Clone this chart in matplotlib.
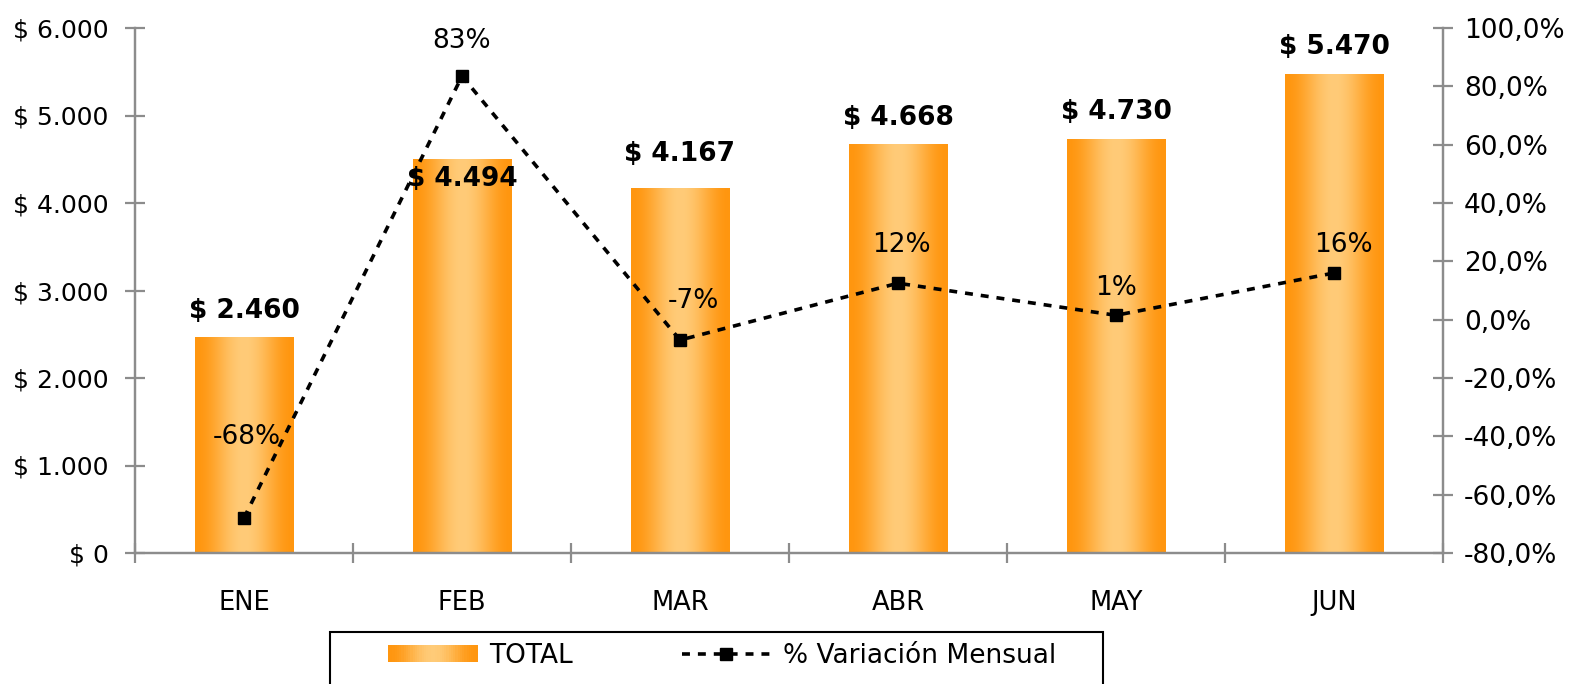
import numpy as np
import matplotlib
matplotlib.use("Agg")
from matplotlib import pyplot as plt
import matplotlib.ticker as ticker
from matplotlib.patches import Rectangle
from matplotlib.legend_handler import HandlerPatch

# data
months = ["ENE", "FEB", "MAR", "ABR", "MAY", "JUN"]
totals = [2460, 4494, 4167, 4668, 4730, 5470]
variation = [-68.0, 83.5, -7.0, 12.5, 1.5, 16.0]
variation_labels = ["-68%", "83%", "-7%", "12%", "1%", "16%"]

# label nudges (pixels)
total_offsets = [(0, 20), (0, -26), (0, 27), (0, 20), (0, 20), (0, 20)]
var_offsets = [(3, 74), (0, 28), (13, 32), (3, 31), (0, 20), (9, 21)]

W, H = 1582, 684
plt.rcParams['font.family'] = ['DejaVu Sans']
GRAY = '#8c8c8c'
DARK = np.array([255, 150, 15]) / 255.0
LIGHT = np.array([255, 203, 120]) / 255.0


def gradient(n=200):
    t = np.linspace(0, 1, n)
    w = np.sin(np.pi * t) ** 2
    return DARK[None, :] * (1 - w[:, None]) + LIGHT[None, :] * w[:, None]


class GradientHandler(HandlerPatch):
    def create_artists(self, legend, orig_handle, xdescent, ydescent,
                       width, height, fontsize, trans):
        cols = gradient(40)
        arts = []
        step = width / len(cols)
        for i, c in enumerate(cols):
            r = Rectangle((-xdescent + i * step, -ydescent), step * 1.05, height,
                          facecolor=c, edgecolor='none', transform=trans)
            arts.append(r)
        return arts


fig = plt.figure(figsize=(W / 100, H / 100), dpi=100)
ax = fig.add_axes([135 / W, 1 - 553 / H, (1443 - 135) / W, (553 - 28) / H])
ax2 = ax.twinx()

x = np.arange(len(months))
bars = ax.bar(x, totals, width=0.45, facecolor='none', edgecolor='none', zorder=2)
grad = gradient()[None, :, :]
for rect in bars:
    x0, w, h = rect.get_x(), rect.get_width(), rect.get_height()
    ax.imshow(grad, extent=[x0, x0 + w, 0, h], aspect='auto', zorder=2,
              interpolation='bilinear')

for i, (xi, v) in enumerate(zip(x, totals)):
    ax.annotate("$ {:,}".format(v).replace(",", "."), (xi, v),
                xytext=total_offsets[i], textcoords='offset pixels',
                ha='center', va='baseline', fontsize=19, fontweight='bold')

ax.set_xlim(-0.5, len(months) - 0.5)
ax.set_ylim(0, 6000)
ax2.set_ylim(-80, 100)

line, = ax2.plot(x, variation, color='black', lw=2.6, linestyle=(0, (2.2, 2.2)),
                 marker='s', markersize=9, zorder=3)
for i, (xi, v) in enumerate(zip(x, variation)):
    ax2.annotate(variation_labels[i], (xi, v), xytext=var_offsets[i],
                 textcoords='offset pixels', ha='center', va='baseline',
                 fontsize=19)

# axes styling
ax.spines['top'].set_visible(False)
ax2.spines['top'].set_visible(False)
for a in (ax, ax2):
    for sp in ['left', 'right', 'bottom']:
        a.spines[sp].set_color(GRAY)
        a.spines[sp].set_linewidth(1.6)

ax.yaxis.set_major_locator(ticker.MultipleLocator(1000))
ax.yaxis.set_major_formatter(ticker.FuncFormatter(
    lambda v, p: "$ {:,}".format(int(v)).replace(",", ".")))
ax2.yaxis.set_major_locator(ticker.MultipleLocator(20))
ax2.yaxis.set_major_formatter(ticker.FuncFormatter(
    lambda v, p: "{:.1f}%".format(v).replace(".", ",")))

ax.set_xticks(x)
ax.set_xticklabels(months)
ax.set_xticks(np.arange(-0.5, len(months)), minor=True)
ax.tick_params(axis='x', which='major', length=0, pad=27, labelsize=18.5)
ax.tick_params(axis='x', which='minor', direction='inout', length=14,
               width=1.6, color=GRAY)
ax.tick_params(axis='y', direction='inout', length=14, width=1.6, color=GRAY,
               labelsize=18, pad=12)
ax2.tick_params(axis='y', direction='inout', length=14, width=1.6, color=GRAY,
                labelsize=19, pad=8)

# legend (frame drawn separately, it runs off the bottom edge)
fig.patches.append(Rectangle((330 / W, -0.05), (1103 - 330) / W, 0.05 + 52 / H,
                             transform=fig.transFigure, facecolor='none',
                             edgecolor='black', linewidth=1.5))
bar_handle = Rectangle((0, 0), 1, 1)
leg = fig.legend([bar_handle, line], ["TOTAL", "% Variación Mensual"],
                 handler_map={Rectangle: GradientHandler()},
                 loc='center left', ncol=2,
                 bbox_to_anchor=(388 / W, 1 - 656 / H),
                 fontsize=19, frameon=False, borderpad=0, borderaxespad=0,
                 handlelength=3.4, handleheight=0.6, handletextpad=0.45,
                 columnspacing=4.1, numpoints=1)

fig.savefig("out.png", dpi=100)
